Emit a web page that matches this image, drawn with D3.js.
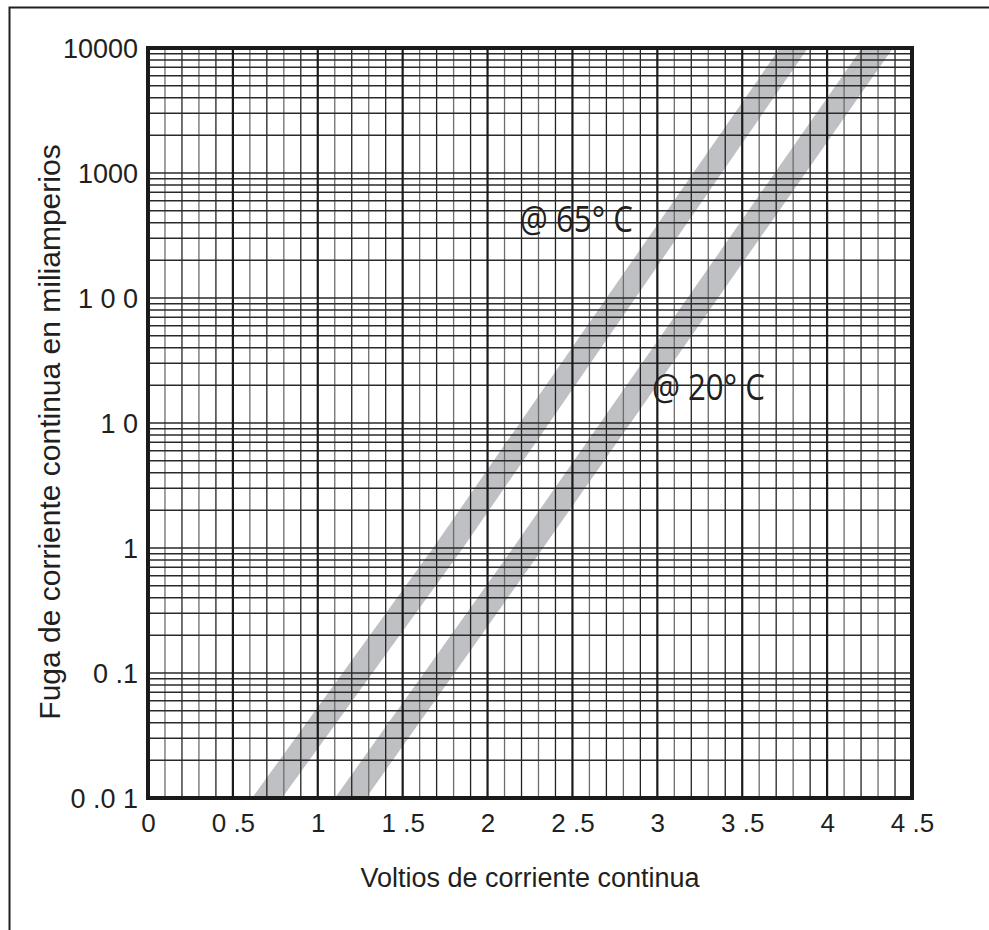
<!DOCTYPE html>
<html>
<head>
<meta charset="utf-8">
<script src="https://cdn.jsdelivr.net/npm/d3@7"></script>
<style>
  body { margin: 0; background: #fff; }
  svg { display: block; }
</style>
</head>
<body>
<svg id="chart" width="989" height="930"></svg>
<script>
// leakage current (mA) at which the band edges were read
const currents = [0.01, 1, 10000];
// band edges in volts, 65 C
const band65Low = [0.613, 1.679, 3.722];
const band65High = [0.789, 1.855, 3.887];
// band edges in volts, 20 C
const band20Low = [1.101, 2.150, 4.205];
const band20High = [1.284, 2.327, 4.388];

const xTicks = [0, 0.5, 1, 1.5, 2, 2.5, 3, 3.5, 4, 4.5];
const xTickLabels = ["0", "0 .5", "1", "1 .5", "2", "2 .5", "3", "3 .5", "4", "4 .5"];
const yTicks = [0.01, 0.1, 1, 10, 100, 1000, 10000];
const yTickLabels = ["0 .0 1", "0 .1", "1", "1 0", "1 0 0", "1000", "10000"];

const xTitle = "Voltios de corriente continua";
const yTitle = "Fuga de corriente continua en miliamperios";

const ink = "#231f20";
const svg = d3.select("#chart");

// outer frame runs off the right and bottom of the picture
svg.append("rect")
    .attr("x", 9.5).attr("y", 7.5)
    .attr("width", 1200).attr("height", 1200)
    .attr("fill", "none")
    .attr("stroke", ink)
    .attr("stroke-width", 2);

const plotL = 148, plotR = 912, plotT = 48, plotB = 798;

const x = d3.scaleLinear().domain([0, 4.5]).range([plotL, plotR]);
const y = d3.scaleLog().domain([0.01, 10000]).range([plotB, plotT]);

// bands
const bandArea = d3.area()
    .x0(d => x(d.lo))
    .x1(d => x(d.hi))
    .y(d => y(d.i));

const bands = [
    currents.map((c, k) => ({i: c, lo: band65Low[k], hi: band65High[k]})),
    currents.map((c, k) => ({i: c, lo: band20Low[k], hi: band20High[k]}))
];

svg.append("g").selectAll("path")
    .data(bands)
    .enter().append("path")
    .attr("d", bandArea)
    .attr("fill", "#bfc0c3");

// grid
const grid = svg.append("g");

const xMinor = d3.range(1, 45).map(v => v / 10).filter(v => Math.round(v * 10) % 5 !== 0);
grid.selectAll("line.vminor")
    .data(xMinor)
    .enter().append("line")
    .attr("class", "vminor")
    .attr("x1", d => x(d)).attr("x2", d => x(d))
    .attr("y1", plotT).attr("y2", plotB)
    .attr("stroke", (d, i) => i % 2 ? "#222" : "#6d6d6d")
    .attr("stroke-width", 1.3);

const yLines = [];
yTicks.slice(0, -1).forEach(dec => {
    for (let k = 1; k <= 9; k++) yLines.push(dec * k);
});
grid.selectAll("line.h")
    .data(yLines)
    .enter().append("line")
    .attr("class", "h")
    .attr("x1", plotL).attr("x2", plotR)
    .attr("y1", d => y(d)).attr("y2", d => y(d))
    .attr("stroke", "#2a2a2a")
    .attr("stroke-width", 1.5);

grid.selectAll("line.vmajor")
    .data(xTicks.slice(1, -1))
    .enter().append("line")
    .attr("class", "vmajor")
    .attr("x1", d => x(d)).attr("x2", d => x(d))
    .attr("y1", plotT).attr("y2", plotB)
    .attr("stroke", "#1a1a1a")
    .attr("stroke-width", 2.2);

svg.append("rect")
    .attr("x", plotL).attr("y", plotT)
    .attr("width", plotR - plotL).attr("height", plotB - plotT)
    .attr("fill", "none")
    .attr("stroke", "#1a1a1a")
    .attr("stroke-width", 4);

// axes (labels only)
const xAxis = svg.append("g")
    .attr("transform", `translate(0,${plotB})`)
    .call(d3.axisBottom(x).tickValues(xTicks).tickSize(0).tickPadding(0)
        .tickFormat((d, i) => xTickLabels[i]));
xAxis.select(".domain").remove();
xAxis.selectAll("text")
    .attr("y", 34)
    .attr("dy", 0)
    .attr("fill", ink)
    .style("font-family", "'Liberation Sans', Arial, sans-serif")
    .style("font-size", "26px");

const yAxis = svg.append("g")
    .attr("transform", `translate(${plotL},0)`)
    .call(d3.axisLeft(y).tickValues(yTicks).tickSize(0).tickPadding(0)
        .tickFormat((d, i) => yTickLabels[i]));
yAxis.select(".domain").remove();
yAxis.selectAll("text")
    .attr("x", -10)
    .attr("dy", "0.35em")
    .attr("fill", ink)
    .style("font-family", "'Liberation Sans', Arial, sans-serif")
    .style("font-size", "27px");

// titles
svg.append("text")
    .attr("x", (plotL + plotR) / 2)
    .attr("y", 887)
    .attr("text-anchor", "middle")
    .attr("fill", ink)
    .style("font-family", "'Liberation Sans', Arial, sans-serif")
    .style("font-size", "27px")
    .text(xTitle);

svg.append("text")
    .attr("transform", "translate(60,432) rotate(-90)")
    .attr("text-anchor", "middle")
    .attr("fill", ink)
    .style("font-family", "'Liberation Sans', Arial, sans-serif")
    .style("font-size", "30px")
    .text(yTitle);

// band labels
const bandLabels = [
    {text: "@ 65° C", v: 2.19, i: 337},
    {text: "@ 20° C", v: 2.968, i: 15.3}
];
svg.append("g").selectAll("text")
    .data(bandLabels)
    .enter().append("text")
    .attr("x", d => x(d.v))
    .attr("y", d => y(d.i))
    .attr("fill", ink)
    .attr("textLength", 113)
    .attr("lengthAdjust", "spacingAndGlyphs")
    .style("font-family", "'Open Sans', 'Noto Sans', sans-serif")
    .style("font-size", "36px")
    .text(d => d.text);
</script>
</body>
</html>
